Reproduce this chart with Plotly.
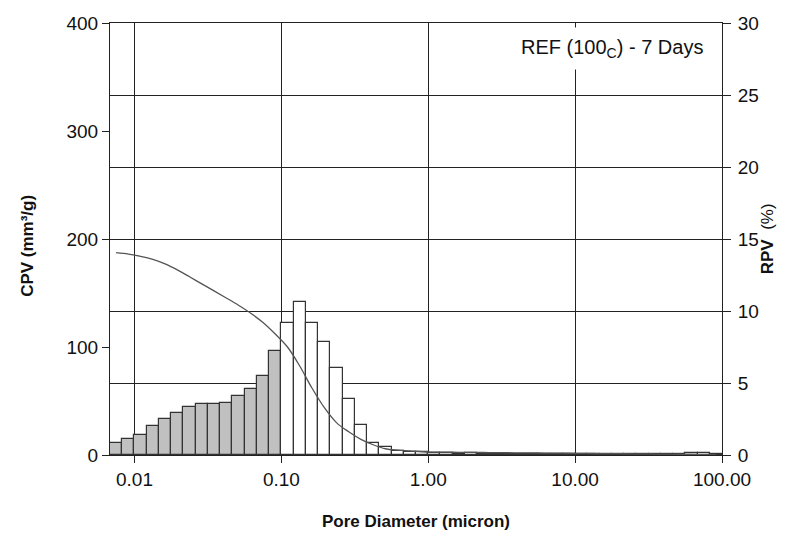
import math
import plotly.graph_objects as go

# bin centres (micron), 12 bins per decade
diameter = [
    0.007499, 0.009086,
    0.011007, 0.013335, 0.016156, 0.019573, 0.023714, 0.028730,
    0.034807, 0.042170, 0.051090, 0.061897, 0.074989, 0.090852,
    0.11007, 0.13335, 0.16156, 0.19573, 0.23714, 0.28730,
    0.34807, 0.42170, 0.51090, 0.61897, 0.74989, 0.90852,
    1.1007, 1.3335, 1.6156, 1.9573, 2.3714, 2.8730,
    3.4807, 4.2170, 5.1090, 6.1897, 7.4989, 9.0852,
    11.007, 13.335, 16.156, 19.573, 23.714, 28.730,
    34.807, 42.170, 51.090, 61.897, 74.989, 90.852,
]

# relative pore volume (%) - bars, right axis
rpv = [
    0.85, 1.13, 1.37, 2.03, 2.48, 2.9, 3.35, 3.52, 3.54, 3.63, 4.1, 4.56, 5.49, 7.22,
    9.15, 10.6, 9.15, 7.87, 6.02, 3.87, 2.1, 0.85, 0.53, 0.28, 0.2, 0.18,
    0.15, 0.12, 0.1, 0.12, 0.1, 0.09, 0.1, 0.08, 0.1, 0.09, 0.08, 0.1,
    0.08, 0.1, 0.09, 0.08, 0.09, 0.1, 0.08, 0.1, 0.09, 0.12, 0.15, 0.1,
]

# cumulative pore volume (mm3/g) - line, left axis
cpv = [
    187.3, 186, 184, 181.2, 177, 171.4, 165, 158.4, 152, 145.4, 138.6, 131.2, 122.7, 112,
    100, 82.4, 62, 44, 30, 21.5, 14.5, 9.5, 5.8, 4.5, 3.8, 3.0,
    2.7, 2.6, 2.5, 2.4, 2.3, 2.2, 2.1, 2.0, 1.9, 1.8, 1.7, 1.6,
    1.5, 1.4, 1.3, 1.2, 1.1, 1.0, 0.9, 0.8, 0.7, 0.5, 0.3, 0.1,
]

x_ticks = [0.01, 0.1, 1, 10, 100]
x_tick_text = ["0.01", "0.10", "1.00", "10.00", "100.00"]

logx = [math.log10(d) for d in diameter]
bar_colors = ["#c0c0c0" if d < 0.1 else "#ffffff" for d in diameter]

font_name = "Liberation Sans, Arial, sans-serif"

fig = go.Figure()
fig.add_trace(go.Bar(
    x=logx, y=rpv, width=1 / 12, yaxis="y",
    marker=dict(color=bar_colors, line=dict(color="#333333", width=1.2)),
    showlegend=False,
))
fig.add_trace(go.Scatter(
    x=logx, y=cpv, yaxis="y2", mode="lines", line_shape="spline",
    line=dict(color="#555555", width=1.3),
    showlegend=False,
))

# page body has an 8px margin, so the figure is a little smaller than the window
fig.update_layout(
    width=781, height=535,
    margin=dict(l=102, r=67, t=15, b=88, autoexpand=False),
    paper_bgcolor="white", plot_bgcolor="white",
    font=dict(family=font_name, size=19, color="#111111"),
    bargap=0,
    xaxis=dict(
        range=[-2.1667, 2], automargin=False,
        tickvals=[math.log10(v) for v in x_ticks], ticktext=x_tick_text,
        tickfont=dict(size=19),
        showgrid=True, gridcolor="#222222", gridwidth=1,
        showline=True, linecolor="#222222", linewidth=1, mirror=True,
        ticks="outside", ticklen=7, tickcolor="#222222",
        zeroline=False,
    ),
    yaxis=dict(
        side="right", range=[0, 30], dtick=5, automargin=False,
        tickfont=dict(size=19), ticklabelstandoff=3,
        showgrid=True, gridcolor="#222222", gridwidth=1,
        showline=True, linecolor="#222222", linewidth=1,
        ticks="outside", ticklen=8, tickcolor="#222222",
        zeroline=False,
    ),
    yaxis2=dict(
        side="left", overlaying="y", range=[0, 400], dtick=100, automargin=False,
        tickfont=dict(size=19),
        showgrid=False,
        showline=True, linecolor="#222222", linewidth=1,
        ticks="outside", ticklen=7, tickcolor="#222222",
        zeroline=False,
    ),
    annotations=[
        dict(text="<b>Pore Diameter (micron)</b>", xref="paper", yref="paper",
             x=0.5, y=-0.155, xanchor="center", yanchor="middle", showarrow=False,
             font=dict(size=17)),
        dict(text="<b>CPV (mm³/g)</b>", textangle=-90, xref="paper", yref="paper",
             x=-0.135, y=0.485, xanchor="center", yanchor="middle", showarrow=False,
             font=dict(size=17)),
        dict(text="<b>RPV</b>  (%)", textangle=-90, xref="paper", yref="paper",
             x=1.074, y=0.5, xanchor="center", yanchor="middle", showarrow=False,
             font=dict(size=17)),
        dict(text="REF (100<sub>C</sub>) - 7 Days", xref="paper", yref="paper",
             x=0.984, y=0.94, xanchor="right", yanchor="middle", showarrow=False,
             bgcolor="white", borderpad=8, font=dict(size=20)),
    ],
)

fig.write_html("out.html")
